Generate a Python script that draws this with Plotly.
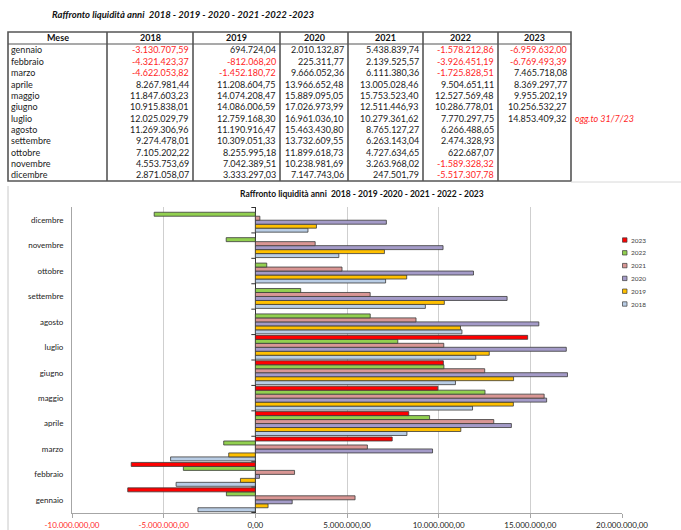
import plotly.graph_objects as go

# ---- data -------------------------------------------------------------
months = ["gennaio", "febbraio", "marzo", "aprile", "maggio", "giugno",
          "luglio", "agosto", "settembre", "ottobre", "novembre", "dicembre"]
years = ["2018", "2019", "2020", "2021", "2022", "2023"]

v2018 = [-3130707.59, -4321423.37, -4622053.82, 8267981.44, 11847603.23, 10915838.01,
         12025029.79, 11269306.96, 9274478.01, 7105202.22, 4553753.69, 2871058.07]
v2019 = [694724.04, -812068.20, -1452180.72, 11208604.75, 14074208.47, 14086006.59,
         12759168.30, 11190916.47, 10309051.33, 8255995.18, 7042389.51, 3333297.03]
v2020 = [2010132.87, 225311.77, 9666052.36, 13966652.48, 15889095.05, 17026973.99,
         16961036.10, 15463430.80, 13732609.55, 11899618.73, 10238981.69, 7147743.06]
v2021 = [5438839.74, 2139525.57, 6111380.36, 13005028.46, 15753523.40, 12511446.93,
         10279361.62, 8765127.27, 6263143.04, 4727634.65, 3263968.02, 247501.79]
v2022 = [-1578212.86, -3926451.19, -1725828.51, 9504651.11, 12527569.48, 10286778.01,
         7770297.75, 6266488.65, 2474328.93, 622687.07, -1589328.32, -5517307.78]
v2023 = [-6959632.00, -6769493.39, 7465718.08, 8369297.77, 9955202.19, 10256532.27,
         14853409.32, None, None, None, None, None]

series = [v2018, v2019, v2020, v2021, v2022, v2023]
colors = ["#b9cde5", "#ffc000", "#a49bc8", "#d99694", "#92d050", "#ff0000"]

x_ticks = [-10e6, -5e6, 0, 5e6, 10e6, 15e6, 20e6]

title_top = "Raffronto liquidità anni\u00a0 2018 - 2019 - 2020 - 2021 -2022 -2023"
title_chart = "Raffronto liquidità anni\u00a0 2018 - 2019 -2020 - 2021 - 2022 - 2023"
note_2023 = "ogg.to 31/7/23"

W, H = 681, 530
FONT = "Lato"
NEG = "#ff1f1f"


def px(x):
    return x / W


def py(y):
    return 1 - y / H


def fmt(v):
    s = f"{abs(v):,.2f}".replace(",", "X").replace(".", ",").replace("X", ".")
    return ("-" if v < 0 else "") + s


def label(x, y, text, size, color="#222", xanchor="center"):
    return dict(x=px(x), y=py(y), xref="paper", yref="paper", text=text,
                showarrow=False, xanchor=xanchor, yanchor="middle",
                font=dict(size=size, color=color))


fig = go.Figure()

# ---- bar chart ---------------------------------------------------------
for name, vals, col in zip(years, series, colors):
    fig.add_trace(go.Bar(
        y=months, x=vals, name=name, orientation="h",
        marker=dict(color=col, line=dict(color="#3a3a3a", width=0.8)),
        showlegend=False,
    ))

tick_text = []
for t in x_ticks:
    lab = fmt(t)
    tick_text.append(f"<span style='color:{NEG}'>{lab}</span>" if t < 0 else lab)

fig.update_layout(
    width=W, height=H,
    margin=dict(l=0, r=0, t=0, b=0, autoexpand=False),
    paper_bgcolor="white", plot_bgcolor="white",
    barmode="group", bargap=0.06, bargroupgap=0,
    font=dict(family=FONT, color="#222"),
    xaxis=dict(
        domain=[px(72), px(622)], range=[-10e6, 20e6], automargin=False,
        tickvals=x_ticks, ticktext=tick_text,
        tickfont=dict(size=8, color="#222"),
        showgrid=True, gridcolor="#cfcfcf", gridwidth=1,
        zeroline=True, zerolinecolor="#333", zerolinewidth=1,
        showline=True, linecolor="#a6a6a6", linewidth=1,
        ticks="outside", ticklen=4, tickcolor="#a6a6a6",
        fixedrange=True,
    ),
    yaxis=dict(
        domain=[py(513), py(207)], automargin=False,
        categoryorder="array", categoryarray=months,
        tickfont=dict(size=8, color="#222"),
        showline=True, linecolor="#a6a6a6", linewidth=1,
        ticks="outside", ticklen=6, tickcolor="rgba(0,0,0,0)",
        showgrid=False, fixedrange=True,
    ),
)

shapes = []
# small tick marks on the zero axis at category boundaries
for k in range(len(months) + 1):
    shapes.append(dict(type="line", xref="x", yref="y", xsizemode="pixel",
                       xanchor=0, x0=-4, x1=0, y0=k - 0.5, y1=k - 0.5,
                       line=dict(color="#333", width=1)))

annotations = []

# chart title
annotations.append(label(362, 194, f"<b>{title_chart}</b>", 8.5, "#111"))

# manual legend, newest year on top
for i, (name, col) in enumerate(zip(years[::-1], colors[::-1])):
    yc = 240 + 12.8 * i
    shapes.append(dict(type="rect", xref="paper", yref="paper",
                       x0=px(622.5), x1=px(627), y0=py(yc + 2.2), y1=py(yc - 2.2),
                       fillcolor=col, line=dict(color="#3a3a3a", width=0.7)))
    annotations.append(label(628.5, yc, name, 6.5, "#444", "left"))

# chart frame line on the left
shapes.append(dict(type="line", xref="paper", yref="paper",
                   x0=px(8), x1=px(8), y0=py(186), y1=py(530),
                   line=dict(color="#c8c8c8", width=1)))

# ---- table ----------------------------------------------------------------
col_edges = [8, 107, 193, 280, 348, 423, 498, 571]
t_top, t_head, t_bot = 32, 44, 181
row_y0, row_dy = 50, 11.35

annotations.append(label(50, 15, f"<b><i>{title_top}</i></b>", 9.5, "#111", "left"))

# table borders
shapes.append(dict(type="rect", xref="paper", yref="paper",
                   x0=px(col_edges[0]), x1=px(col_edges[-1]), y0=py(t_bot), y1=py(t_top),
                   line=dict(color="#555", width=1.6)))
for xe in col_edges[1:-1]:
    shapes.append(dict(type="line", xref="paper", yref="paper",
                       x0=px(xe), x1=px(xe), y0=py(t_bot), y1=py(t_top),
                       line=dict(color="#555", width=1.6)))
shapes.append(dict(type="line", xref="paper", yref="paper",
                   x0=px(col_edges[0]), x1=px(col_edges[-1]), y0=py(t_head), y1=py(t_head),
                   line=dict(color="#555", width=1.2)))
shapes.append(dict(type="line", xref="paper", yref="paper",
                   x0=px(col_edges[-1]), x1=px(W), y0=py(t_bot + 1), y1=py(t_bot + 1),
                   line=dict(color="#d8d8d8", width=1)))

# header
headers = ["Mese"] + years
for j, h in enumerate(headers):
    xc = (col_edges[j] + col_edges[j + 1]) / 2
    annotations.append(label(xc, 38, f"<b>{h}</b>", 9, "#111"))

# rows
for i, m in enumerate(months):
    yc = row_y0 + row_dy * i
    annotations.append(label(col_edges[0] + 1, yc, m, 9, "#222", "left"))
    for j, vals in enumerate(series):
        v = vals[i]
        if v is None:
            continue
        annotations.append(label(col_edges[j + 2] - 2, yc, fmt(v), 9,
                                 NEG if v < 0 else "#222", "right"))

# update note next to the last 2023 value
last_idx = max(i for i, v in enumerate(v2023) if v is not None)
annotations.append(label(573, row_y0 + row_dy * last_idx, f"<i>{note_2023}</i>",
                         9, NEG, "left"))

fig.update_layout(shapes=shapes, annotations=annotations)
fig.write_html("out.html")
